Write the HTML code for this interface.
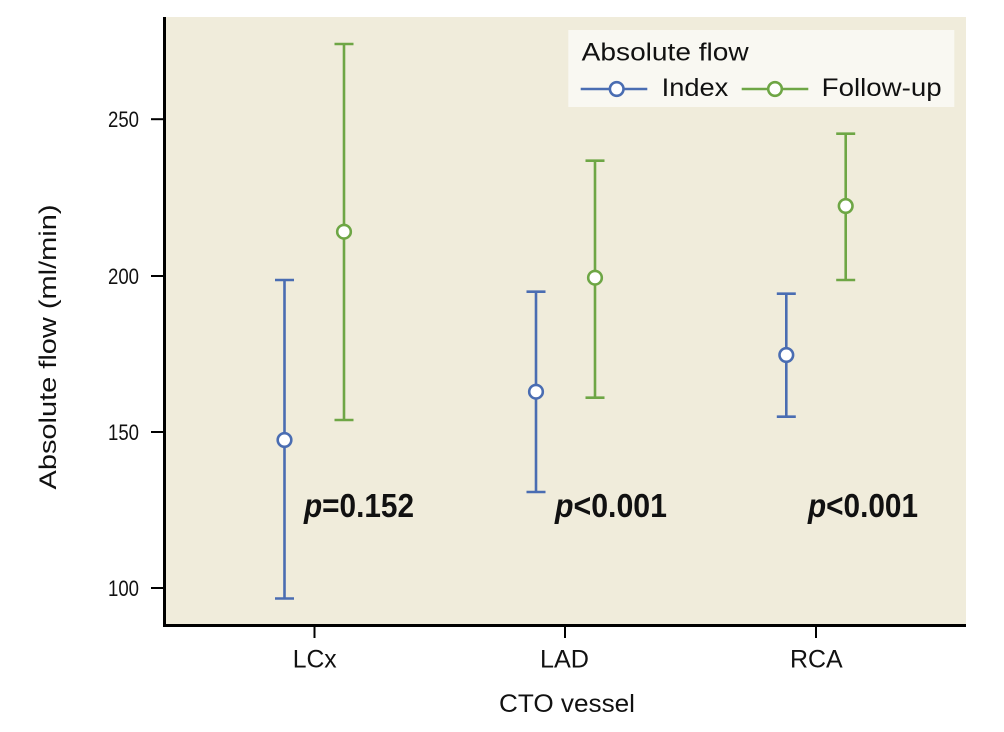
<!DOCTYPE html>
<html>
<head>
<meta charset="utf-8">
<style>
  html, body { margin: 0; padding: 0; background: #ffffff; }
  svg { display: block; }
  text { font-family: "Liberation Sans", sans-serif; fill: #111; }
</style>
</head>
<body>
<svg width="1004" height="732" viewBox="0 0 1004 732" xmlns="http://www.w3.org/2000/svg">
  <!-- plot background -->
  <rect x="164" y="17" width="802" height="609" fill="#f0ecdb"/>

  <!-- spines -->
  <line x1="164.5" y1="17" x2="164.5" y2="627" stroke="#000" stroke-width="3"/>
  <line x1="163" y1="625.5" x2="966" y2="625.5" stroke="#000" stroke-width="3"/>

  <!-- y ticks -->
  <g stroke="#000" stroke-width="2">
    <line x1="151" y1="119.2" x2="164" y2="119.2"/>
    <line x1="151" y1="276" x2="164" y2="276"/>
    <line x1="151" y1="432" x2="164" y2="432"/>
    <line x1="151" y1="588" x2="164" y2="588"/>
  </g>
  <g font-size="22" text-anchor="end">
    <text x="139" y="127.2" textLength="31" lengthAdjust="spacingAndGlyphs">250</text>
    <text x="139" y="284" textLength="31" lengthAdjust="spacingAndGlyphs">200</text>
    <text x="139" y="440" textLength="31" lengthAdjust="spacingAndGlyphs">150</text>
    <text x="139" y="596" textLength="31" lengthAdjust="spacingAndGlyphs">100</text>
  </g>

  <!-- x ticks -->
  <g stroke="#000" stroke-width="2">
    <line x1="314.5" y1="626" x2="314.5" y2="638"/>
    <line x1="565" y1="626" x2="565" y2="638"/>
    <line x1="816" y1="626" x2="816" y2="638"/>
  </g>
  <g font-size="25">
    <text x="292.7" y="667.5" textLength="44" lengthAdjust="spacingAndGlyphs">LCx</text>
    <text x="540" y="667.5" textLength="49" lengthAdjust="spacingAndGlyphs">LAD</text>
    <text x="790" y="667.5" textLength="52.7" lengthAdjust="spacingAndGlyphs">RCA</text>
  </g>

  <!-- axis titles -->
  <text x="499" y="712" font-size="25" textLength="136" lengthAdjust="spacingAndGlyphs">CTO vessel</text>
  <text transform="translate(56,347) rotate(-90)" font-size="24" text-anchor="middle" textLength="285" lengthAdjust="spacingAndGlyphs">Absolute flow (ml/min)</text>

  <!-- Index series (blue) -->
  <g stroke="#4a6db2" stroke-width="2.6" fill="#ffffff">
    <line x1="284.5" y1="280" x2="284.5" y2="598.5"/>
    <line x1="275" y1="280" x2="294" y2="280"/>
    <line x1="275" y1="598.5" x2="294" y2="598.5"/>
    <circle cx="284.5" cy="440" r="6.8"/>

    <line x1="536" y1="291.7" x2="536" y2="492"/>
    <line x1="526.5" y1="291.7" x2="545.5" y2="291.7"/>
    <line x1="526.5" y1="492" x2="545.5" y2="492"/>
    <circle cx="536" cy="391.7" r="6.8"/>

    <line x1="786.3" y1="293.7" x2="786.3" y2="416.7"/>
    <line x1="776.8" y1="293.7" x2="795.8" y2="293.7"/>
    <line x1="776.8" y1="416.7" x2="795.8" y2="416.7"/>
    <circle cx="786.3" cy="355" r="6.8"/>
  </g>

  <!-- Follow-up series (green) -->
  <g stroke="#6ea645" stroke-width="2.6" fill="#ffffff">
    <line x1="344" y1="44" x2="344" y2="420"/>
    <line x1="334.5" y1="44" x2="353.5" y2="44"/>
    <line x1="334.5" y1="420" x2="353.5" y2="420"/>
    <circle cx="344" cy="231.7" r="6.8"/>

    <line x1="595" y1="160.7" x2="595" y2="397.7"/>
    <line x1="585.5" y1="160.7" x2="604.5" y2="160.7"/>
    <line x1="585.5" y1="397.7" x2="604.5" y2="397.7"/>
    <circle cx="595" cy="277.7" r="6.8"/>

    <line x1="845.7" y1="133.7" x2="845.7" y2="280"/>
    <line x1="836.2" y1="133.7" x2="855.2" y2="133.7"/>
    <line x1="836.2" y1="280" x2="855.2" y2="280"/>
    <circle cx="845.7" cy="206" r="6.8"/>
  </g>

  <!-- p-values -->
  <g font-size="33" font-weight="bold">
    <text x="304" y="517" textLength="110" lengthAdjust="spacingAndGlyphs"><tspan font-style="italic">p</tspan>=0.152</text>
    <text x="555" y="517" textLength="112" lengthAdjust="spacingAndGlyphs"><tspan font-style="italic">p</tspan>&lt;0.001</text>
    <text x="808" y="517" textLength="110" lengthAdjust="spacingAndGlyphs"><tspan font-style="italic">p</tspan>&lt;0.001</text>
  </g>

  <!-- legend -->
  <rect x="568.3" y="30" width="386" height="77" fill="#f9f8f2"/>
  <text x="581.7" y="60.7" font-size="25" textLength="167" lengthAdjust="spacingAndGlyphs">Absolute flow</text>
  <line x1="580.7" y1="89" x2="647.3" y2="89" stroke="#4a6db2" stroke-width="2.6"/>
  <circle cx="616.7" cy="89" r="6.8" fill="#ffffff" stroke="#4a6db2" stroke-width="2.6"/>
  <text x="661.7" y="96" font-size="25" textLength="66.6" lengthAdjust="spacingAndGlyphs">Index</text>
  <line x1="741.7" y1="89" x2="808.3" y2="89" stroke="#6ea645" stroke-width="2.6"/>
  <circle cx="775" cy="89" r="6.8" fill="#ffffff" stroke="#6ea645" stroke-width="2.6"/>
  <text x="821.7" y="96" font-size="25" textLength="120" lengthAdjust="spacingAndGlyphs">Follow-up</text>
</svg>
</body>
</html>
